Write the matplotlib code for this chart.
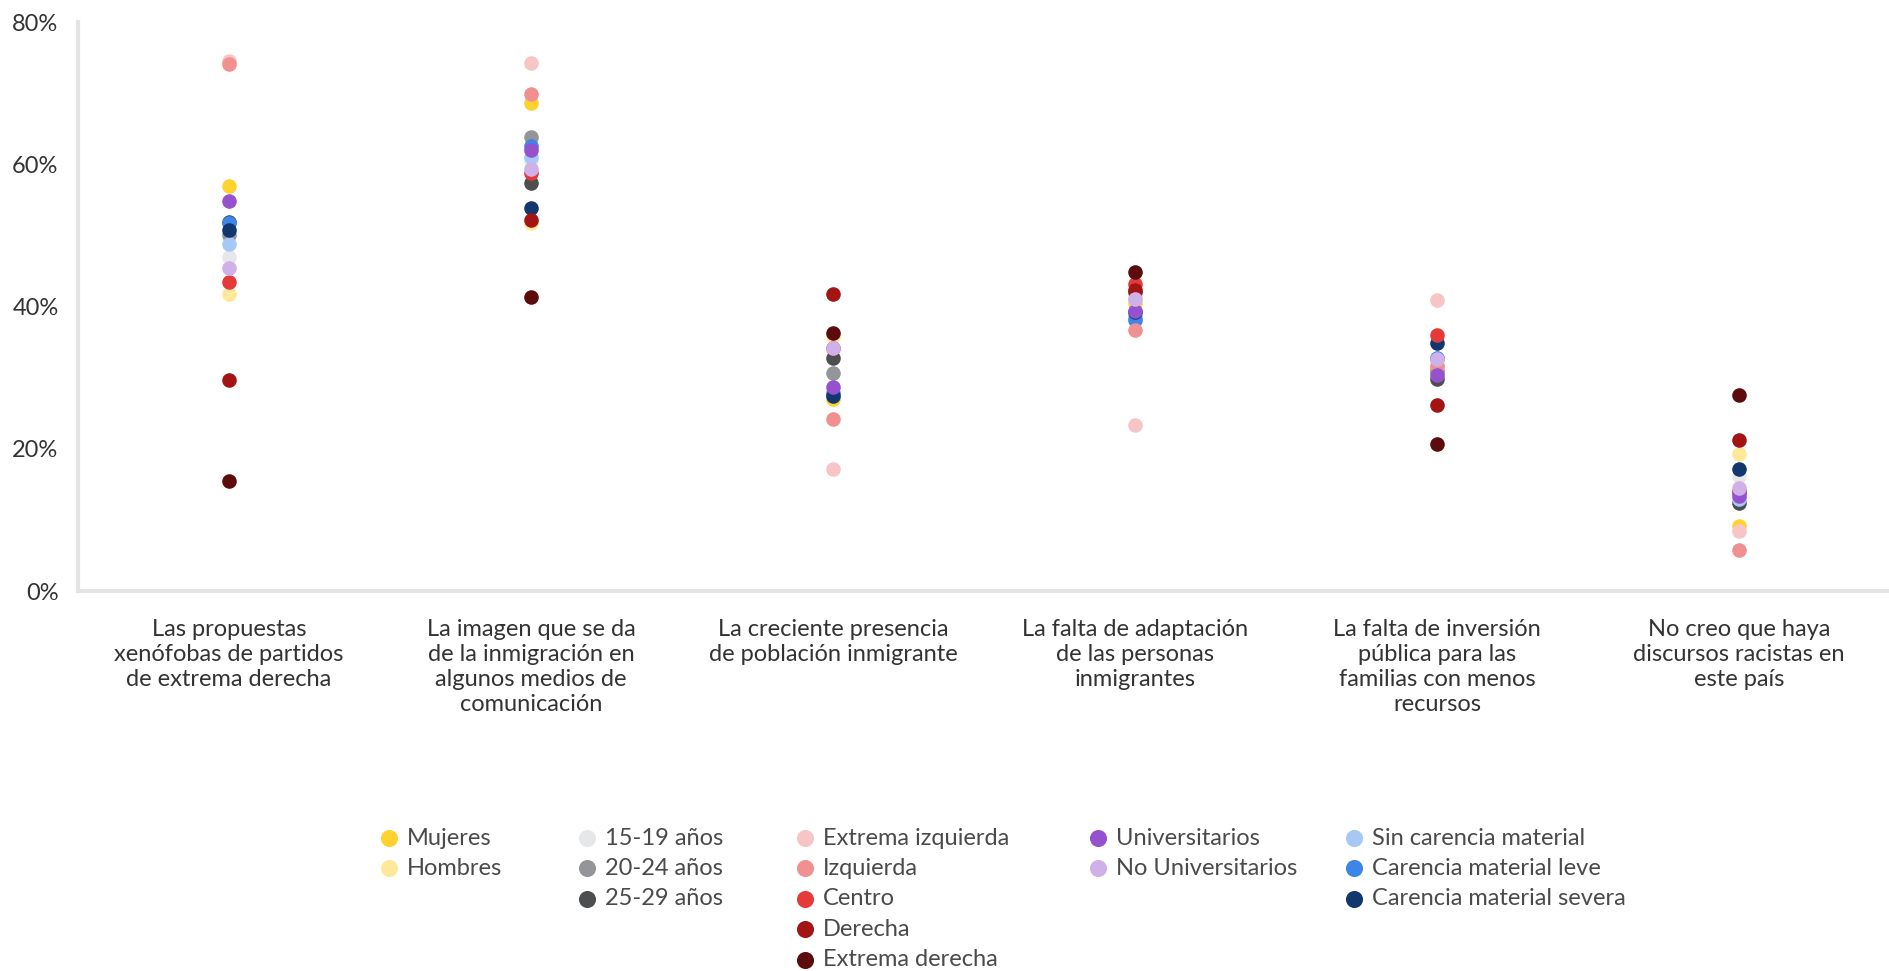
import matplotlib
matplotlib.use("Agg")
import matplotlib.pyplot as plt
import matplotlib.lines as mlines

plt.rcParams['font.family'] = ['Lato', 'DejaVu Sans']

categories = [
    "Las propuestas\nxenófobas de partidos\nde extrema derecha",
    "La imagen que se da\nde la inmigración en\nalgunos medios de\ncomunicación",
    "La creciente presencia\nde población inmigrante",
    "La falta de adaptación\nde las personas\ninmigrantes",
    "La falta de inversión\npública para las\nfamilias con menos\nrecursos",
    "No creo que haya\ndiscursos racistas en\neste país",
]

# values in % per category
mujeres = [57.0, 68.6, 27.0, 40.5, 31.0, 9.2]
hombres = [41.7, 51.7, 35.8, 41.5, 31.5, 19.2]
edad_15_19 = [47.0, 60.4, 34.0, 41.0, 32.0, 16.1]
edad_20_24 = [50.1, 63.8, 30.7, 38.5, 31.0, 14.0]
edad_25_29 = [51.9, 57.4, 32.8, 42.0, 29.8, 12.4]
ext_izquierda = [74.5, 74.3, 17.2, 23.4, 40.9, 8.5]
izquierda = [74.1, 69.9, 24.2, 36.7, 31.7, 5.7]
centro = [43.5, 58.7, 34.2, 43.1, 36.0, 14.0]
derecha = [29.7, 52.1, 41.7, 42.3, 26.2, 21.3]
ext_derecha = [15.5, 41.4, 36.3, 44.9, 20.7, 27.6]
universitarios = [54.8, 62.0, 28.7, 39.4, 30.4, 13.3]
no_universitarios = [45.4, 59.4, 34.1, 41.1, 32.6, 14.5]
sin_carencia = [48.8, 61.0, 27.6, 38.5, 32.7, 13.0]
carencia_leve = [51.7, 62.5, 27.8, 38.1, 32.8, 13.8]
carencia_severa = [50.7, 53.8, 27.4, 39.2, 34.9, 17.1]

groups = [
    [("Mujeres", mujeres, "#FFD230"), ("Hombres", hombres, "#FFE899")],
    [("15-19 años", edad_15_19, "#E6E7E9"), ("20-24 años", edad_20_24, "#939598"),
     ("25-29 años", edad_25_29, "#4D4E50")],
    [("Extrema izquierda", ext_izquierda, "#F7C5C5"), ("Izquierda", izquierda, "#F09090"),
     ("Centro", centro, "#E63A3A"), ("Derecha", derecha, "#A31515"),
     ("Extrema derecha", ext_derecha, "#5C0C0C")],
    [("Universitarios", universitarios, "#9652CE"), ("No Universitarios", no_universitarios, "#CFB0E8")],
    [("Sin carencia material", sin_carencia, "#A5C8F5"), ("Carencia material leve", carencia_leve, "#3D85E6"),
     ("Carencia material severa", carencia_severa, "#12376E")],
]
# stacking order of the groups (sexo, edad, partidos, estudios, carencia)
group_z = [3, 4, 6, 7, 5]

txt = "#333333"
W, H = 1890, 971
fig = plt.figure(figsize=(W / 100, H / 100), dpi=100)
ax = fig.add_axes([78 / W, 1 - 591 / H, 1 - 78 / W, (591 - 22) / H])

x = list(range(len(categories)))
for grp, z in zip(groups, group_z):
    for name, vals, col in grp:
        ax.plot(x, vals, linestyle='None', marker='o', markersize=10.5,
                color=col, markeredgewidth=0, zorder=z)

ax.set_xlim(-0.5, len(categories) - 0.5)
ax.set_ylim(0, 80)
ax.set_yticks([0, 20, 40, 60, 80])
ax.set_yticklabels([f"{v}%" for v in [0, 20, 40, 60, 80]])
ax.set_xticks(x)
ax.set_xticklabels(categories, linespacing=1.24)
ax.tick_params(axis='both', length=0, labelsize=17, labelcolor=txt)
ax.tick_params(axis='y', pad=14)
ax.tick_params(axis='x', pad=20)
for s in ['top', 'right']:
    ax.spines[s].set_visible(False)
for s in ['left', 'bottom']:
    ax.spines[s].set_color('#E3E4E6')
    ax.spines[s].set_linewidth(3)

# legend drawn by hand, one column per group
leg_x = [389, 587, 805, 1098, 1354]
row0, row_step = 838, 30.4
for gx, grp in zip(leg_x, groups):
    for i, (name, _, col) in enumerate(grp):
        yy = 1 - (row0 + i * row_step) / H
        fig.add_artist(mlines.Line2D([gx / W], [yy], marker='o', markersize=12.3,
                                     color=col, markeredgewidth=0, linestyle='None',
                                     transform=fig.transFigure))
        fig.text((gx + 18) / W, yy, name, fontsize=17, color="#4A4A4A",
                 va='center', ha='left')

fig.savefig("out.png", dpi=100)
